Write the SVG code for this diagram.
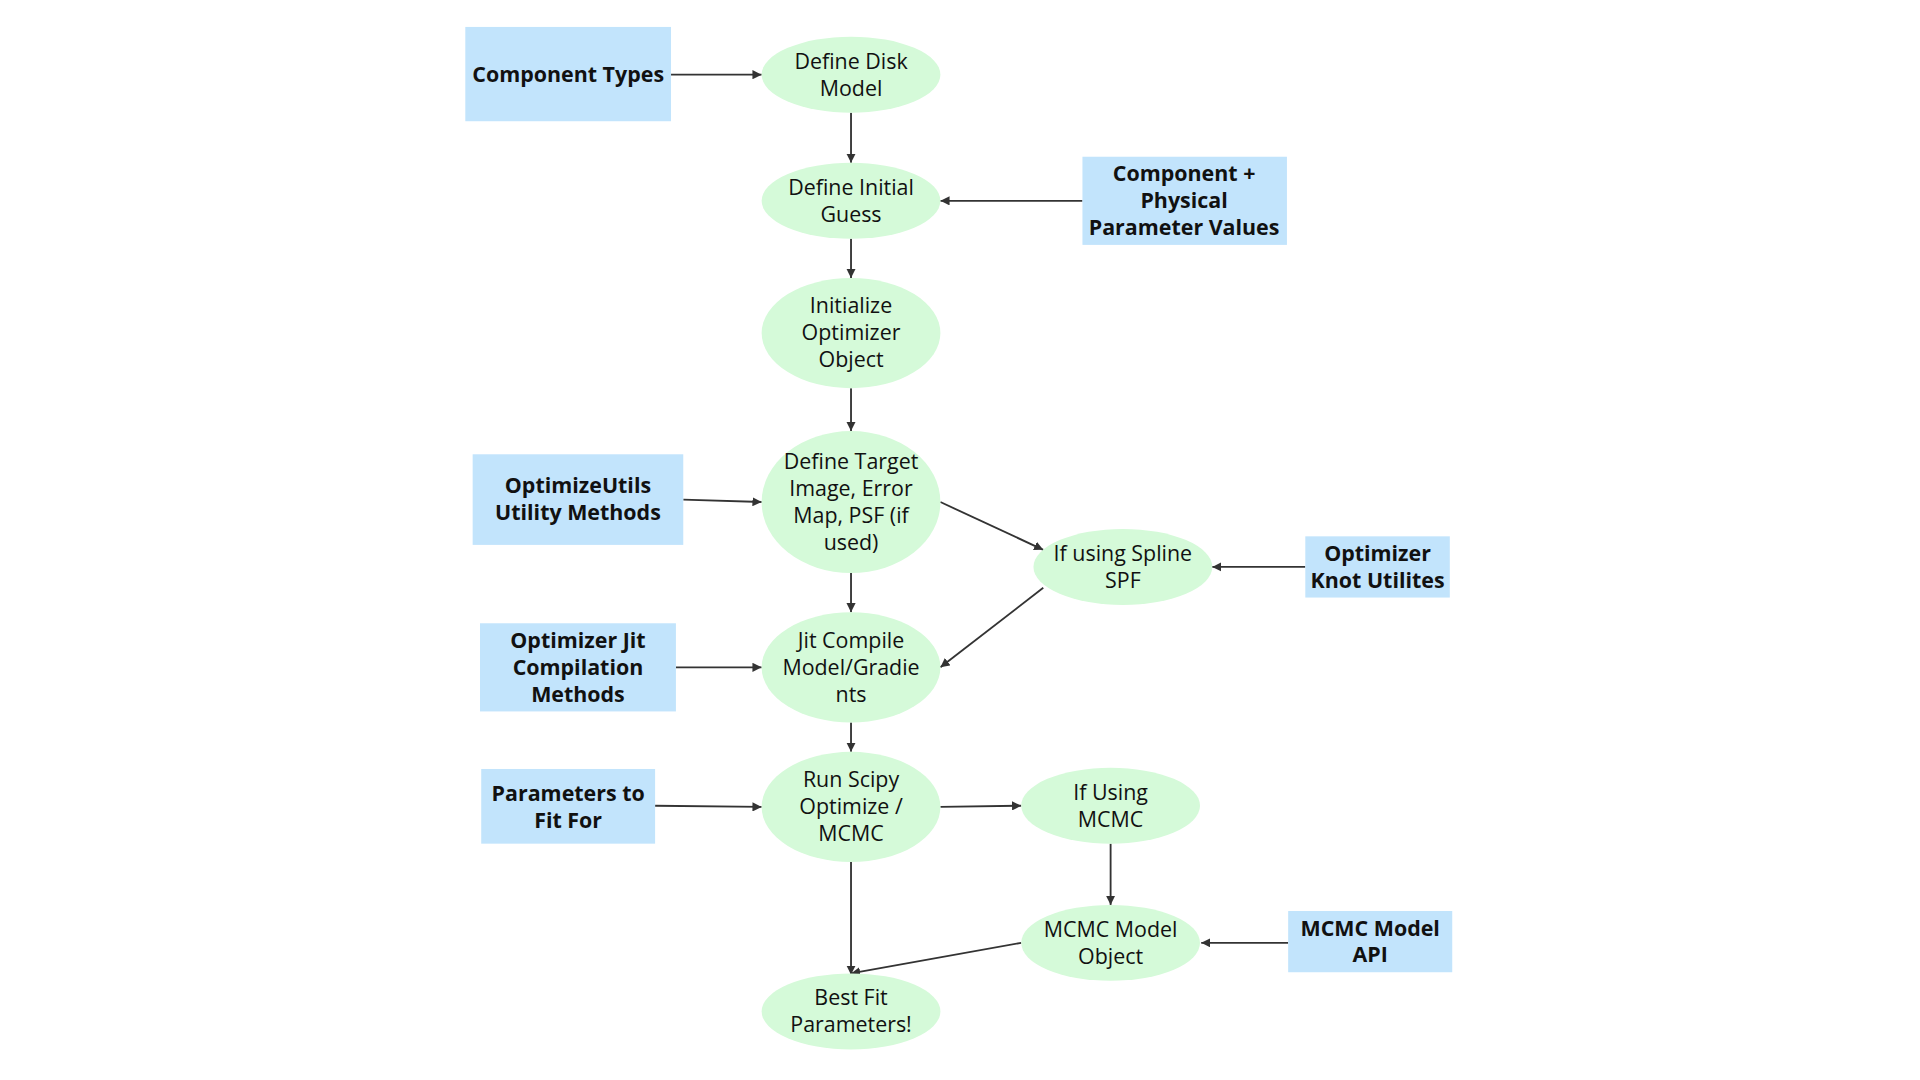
<svg xmlns="http://www.w3.org/2000/svg" width="1920" height="1080" viewBox="0 0 1920 1080">
<defs>
<marker id="ah" viewBox="0 0 10 10" refX="10" refY="5" markerWidth="5" markerHeight="5" orient="auto"><path d="M0,0 L10,5 L0,10 z" fill="#333"/></marker>
<style>
.e{fill:#d5fad9}
.r{fill:#c2e4fc}
text{font-family:"Open Sans","Liberation Sans",sans-serif;font-size:17.5px;fill:#111;text-anchor:middle}
.b{font-weight:bold}
.c line{stroke:#333;stroke-width:1.5;marker-end:url(#ah)}
</style>
</defs>
<rect width="1920" height="1080" fill="#fff"/>
<g transform="scale(1.22449)">
<g id="connectors" class="c">
<line x1="548" y1="61" x2="622" y2="61"/>
<line x1="695" y1="92" x2="695" y2="133"/>
<line x1="884" y1="164" x2="768" y2="164"/>
<line x1="695" y1="195" x2="695" y2="227"/>
<line x1="695" y1="317" x2="695" y2="352"/>
<line x1="558" y1="408" x2="622" y2="410"/>
<line x1="768" y1="410" x2="852" y2="449"/>
<line x1="695" y1="468" x2="695" y2="500"/>
<line x1="1066" y1="463" x2="990" y2="463"/>
<line x1="852" y1="480" x2="768" y2="545"/>
<line x1="552" y1="545" x2="622" y2="545"/>
<line x1="695" y1="590" x2="695" y2="614"/>
<line x1="535" y1="658" x2="622" y2="659"/>
<line x1="768" y1="659" x2="834" y2="658"/>
<line x1="907" y1="689" x2="907" y2="739"/>
<line x1="1052" y1="770" x2="981" y2="770"/>
<line x1="695" y1="704" x2="695" y2="796"/>
<line x1="834" y1="770" x2="695" y2="795"/>
</g>
<g id="n1"><ellipse class="e" cx="695" cy="61" rx="73" ry="31"/><text x="695" y="56">Define Disk</text><text x="695" y="78">Model</text></g>
<g id="n2"><ellipse class="e" cx="695" cy="164" rx="73" ry="31"/><text x="695" y="159">Define Initial</text><text x="695" y="181">Guess</text></g>
<g id="n3"><ellipse class="e" cx="695" cy="272" rx="73" ry="45"/><text x="695" y="256">Initialize</text><text x="695" y="278">Optimizer</text><text x="695" y="300">Object</text></g>
<g id="n4"><ellipse class="e" cx="695" cy="410" rx="73" ry="58"/><text x="695" y="383">Define Target</text><text x="695" y="405">Image, Error</text><text x="695" y="427">Map, PSF (if</text><text x="695" y="449">used)</text></g>
<g id="n5"><ellipse class="e" cx="695" cy="545" rx="73" ry="45"/><text x="695" y="529">Jit Compile</text><text x="695" y="551">Model/Gradie</text><text x="695" y="573">nts</text></g>
<g id="n6"><ellipse class="e" cx="695" cy="659" rx="73" ry="45"/><text x="695" y="643">Run Scipy</text><text x="695" y="665">Optimize /</text><text x="695" y="687">MCMC</text></g>
<g id="n7"><ellipse class="e" cx="695" cy="826" rx="73" ry="31"/><text x="695" y="821">Best Fit</text><text x="695" y="843">Parameters!</text></g>
<g id="n8"><ellipse class="e" cx="917" cy="463" rx="73" ry="31"/><text x="917" y="458">If using Spline</text><text x="917" y="480">SPF</text></g>
<g id="n9"><ellipse class="e" cx="907" cy="658" rx="73" ry="31"/><text x="907" y="653">If Using</text><text x="907" y="675">MCMC</text></g>
<g id="n10"><ellipse class="e" cx="907" cy="770" rx="73" ry="31"/><text x="907" y="765">MCMC Model</text><text x="907" y="787">Object</text></g>
<g id="r1"><rect class="r" x="380" y="22" width="168" height="77"/><text class="b" x="464" y="67">Component Types</text></g>
<g id="r2"><rect class="r" x="884" y="128" width="167" height="72"/><text class="b" x="967" y="148">Component +</text><text class="b" x="967" y="170">Physical</text><text class="b" x="967" y="192">Parameter Values</text></g>
<g id="r3"><rect class="r" x="386" y="371" width="172" height="74"/><text class="b" x="472" y="403">OptimizeUtils</text><text class="b" x="472" y="425">Utility Methods</text></g>
<g id="r4"><rect class="r" x="392" y="509" width="160" height="72"/><text class="b" x="472" y="529">Optimizer Jit</text><text class="b" x="472" y="551">Compilation</text><text class="b" x="472" y="573">Methods</text></g>
<g id="r5"><rect class="r" x="393" y="628" width="142" height="61"/><text class="b" x="464" y="654">Parameters to</text><text class="b" x="464" y="676">Fit For</text></g>
<g id="r6"><rect class="r" x="1066" y="438" width="118" height="50"/><text class="b" x="1125" y="458">Optimizer</text><text class="b" x="1125" y="480">Knot Utilites</text></g>
<g id="r7"><rect class="r" x="1052" y="744" width="134" height="50"/><text class="b" x="1119" y="764">MCMC Model</text><text class="b" x="1119" y="786">API</text></g>
</g>
</svg>
